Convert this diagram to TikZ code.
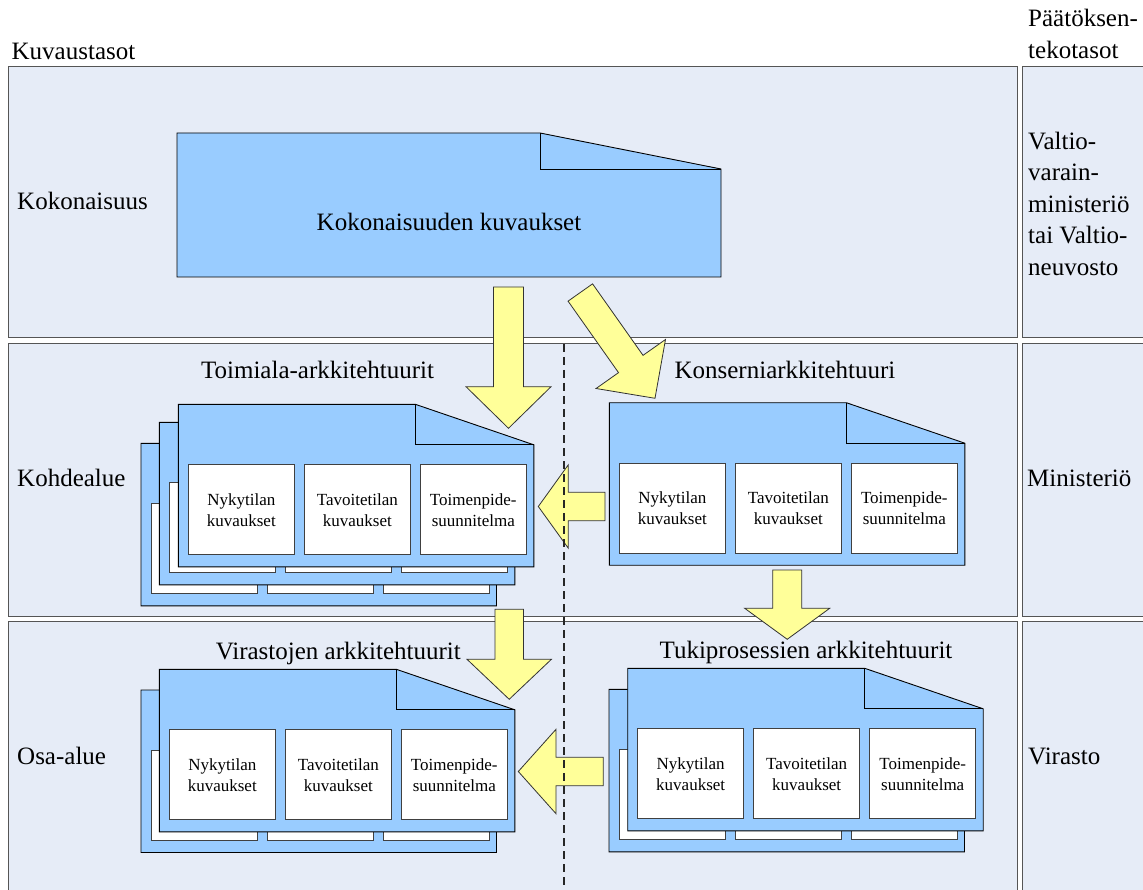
\documentclass[tikz,border=0pt]{standalone}
\usepackage{fontspec}
\setmainfont{Liberation Serif}
\usetikzlibrary{calc}
\definecolor{panelfill}{HTML}{E6ECF7}
\definecolor{docfill}{HTML}{99CCFF}
\definecolor{arrowfill}{HTML}{FFFF99}
\definecolor{panelline}{HTML}{555555}
\newcommand\bigfont{\fontsize{25}{31.6}\selectfont}
\newcommand\smallfont{\fontsize{17}{20.6}\selectfont}
\tikzset{
 panel/.style={draw=panelline, fill=panelfill, line width=1pt},
 docshape/.style={draw=black, fill=docfill, line width=0.9pt, line join=miter},
 foldline/.style={draw=black, line width=0.9pt},
 wbox/.style={draw=black!75, fill=white, line width=0.9pt, minimum width=106pt, minimum height=90pt, inner sep=0pt, align=center, font=\smallfont},
 blank/.style={draw=black!75, fill=white, line width=0.9pt},
 biglabel/.style={font=\bigfont, inner sep=0pt, anchor=base west, align=left},
 doctitle/.style={font=\bigfont, inner sep=0pt, anchor=base},
 blockarrow/.style={draw=black!80, fill=arrowfill, line width=0.8pt, line join=miter},
 divider/.style={draw=black!85, line width=1.2pt, dash pattern=on 8pt off 5pt},
}
\newcommand\docoutline[3]{%
 \coordinate (#1) at (#2,#3);
 \draw[docshape] (#1) -- ++(237,0) -- ++(118.5,40.5) -- ++(0,122) -- ++(-355.5,0) -- cycle;
 \draw[foldline] ($(#1)+(237,0)$) -- ++(0,40.5) -- ++(118.5,0);
}
\newcommand\docblank[3]{%
 \docoutline{#1}{#2}{#3}
 \foreach \dx in {10,126,242} \draw[blank] ($(#1)+(\dx,60.6)$) rectangle ++(106,90);
}
\newcommand\docfull[3]{%
 \docoutline{#1}{#2}{#3}
 \node[wbox] (#1-a) at ($(#1)+(63,105.6)$) {Nykytilan\\kuvaukset};
 \node[wbox] (#1-b) at ($(#1)+(179,105.6)$) {Tavoitetilan\\kuvaukset};
 \node[wbox] (#1-c) at ($(#1)+(295,105.6)$) {Toimenpide-\\suunnitelma};
}
\newcommand\blkarrow[6]{%
 \coordinate (#1-t) at #2;
 \coordinate (#1-p) at #3;
 \coordinate (#1-h) at ($(#1-p)!#4!(#1-t)$);
 \draw[blockarrow] ($(#1-t)!#5!90:(#1-p)$) -- ($(#1-h)!#5!90:(#1-p)$) -- ($(#1-h)!#6!90:(#1-p)$) -- (#1-p) -- ($(#1-h)!#6!-90:(#1-p)$) -- ($(#1-h)!#5!-90:(#1-p)$) -- ($(#1-t)!#5!-90:(#1-p)$) -- cycle;
}
\begin{document}
\begin{tikzpicture}[x=1pt,y=-1pt]
\useasboundingbox (0,0) rectangle (1143,890);
\clip (0,0) rectangle (1143,890);
% panels
\draw[panel] (8,67) rectangle (1017,338);
\draw[panel] (8,344) rectangle (1017,616);
\draw[panel] (8,621) rectangle (1017,900);
\draw[panel] (1022,67) rectangle (1150,338);
\draw[panel] (1022,344) rectangle (1150,616);
\draw[panel] (1022,621) rectangle (1150,900);
% labels
\node[biglabel] (kuvaustasot) at (11.5,59.3) {Kuvaustasot};
\node[biglabel] (kokonaisuus) at (17,209.3) {Kokonaisuus};
\node[biglabel] (kohdealue) at (17,486) {Kohdealue};
\node[biglabel] (osaalue) at (17,764.3) {Osa-alue};
\node[biglabel] (paatos) at (1028,58.3) {Päätöksen-\\tekotasot};
\node[biglabel] (valtio) at (1028,275.5) {Valtio-\\varain-\\ministeriö\\tai Valtio-\\neuvosto};
\node[biglabel] (ministerio) at (1027,486) {Ministeriö};
\node[biglabel] (virasto) at (1028,764.3) {Virasto};
% top document
\coordinate (kok) at (177,133);
\draw[docshape] (kok) -- (540,133) -- (721,169) -- (721,277) -- (177,277) -- cycle;
\draw[foldline] (540,133) -- (540,169) -- (721,169);
\node[doctitle] (kok-title) at (449,231) {Kokonaisuuden kuvaukset};
% Toimiala stack
\docblank{toim3}{141}{443.3}
\docblank{toim2}{159.3}{422.3}
\docfull{toim}{178.3}{404.3}
\node[doctitle] (toim-title) at (317.5,378) {Toimiala-arkkitehtuurit};
% Konserni
\docfull{kons}{609.3}{402.7}
\node[doctitle] (kons-title) at (785,378) {Konserniarkkitehtuuri};
% Tuki stack
\docblank{tuki2}{609}{689.3}
\docfull{tuki}{627.7}{668.3}
\node[doctitle] (tuki-title) at (806,658.3) {Tukiprosessien arkkitehtuurit};
% Virastojen stack
\docblank{vir2}{141}{690}
\docfull{vir}{159.3}{669.3}
\node[doctitle] (vir-title) at (338.3,659.3) {Virastojen arkkitehtuurit};
% arrows
\blkarrow{a1}{(508.5,287)}{(508.5,428.3)}{41.6pt}{15pt}{42.5pt}
\blkarrow{a2}{(580.3,292.5)}{(655,398.3)}{42pt}{15pt}{42.5pt}
\blkarrow{a3}{(605,506.5)}{(538.3,506.5)}{30pt}{14.2pt}{41.7pt}
\blkarrow{a4}{(787.2,570)}{(787.2,639.3)}{31pt}{14.5pt}{42.5pt}
\blkarrow{a5}{(509.2,609.3)}{(509.2,699.3)}{40pt}{14.2pt}{42.2pt}
\blkarrow{a6}{(603.3,771.5)}{(518.3,771.5)}{37.7pt}{14.2pt}{42.2pt}
% divider
\coordinate (dtop) at (564,344);
\coordinate (dbot) at (564,890);
\draw[divider] (dtop) -- (dbot);
\end{tikzpicture}
\end{document}
